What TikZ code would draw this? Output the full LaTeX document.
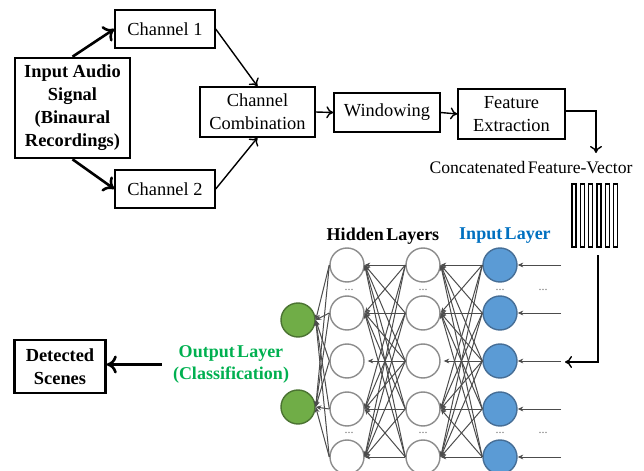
\documentclass[tikz,border=0pt]{standalone}
\usepackage{fontspec}
\setmainfont{Liberation Serif}
\usetikzlibrary{arrows.meta}

\definecolor{inblue}{RGB}{91,155,213}
\definecolor{inborder}{RGB}{70,110,150}
\definecolor{outgreen}{RGB}{112,173,71}
\definecolor{outborder}{RGB}{75,115,50}
\definecolor{labblue}{RGB}{0,112,192}
\definecolor{labgreen}{RGB}{0,176,80}

\tikzset{
  box/.style={draw, line width=0.7pt, align=center, inner sep=1pt,
    font=\fontsize{9.2}{11.5}\selectfont},
  boldbox/.style={box, line width=1.3pt, font=\fontsize{9.2}{11.5}\selectfont\bfseries},
  flow/.style={-{To[length=3.5pt,width=6pt]}, line width=0.7pt},
  bigflow/.style={-{To[length=5pt,width=9pt]}, line width=1.3pt},
  neuron/.style={circle, draw=black!45, line width=0.7pt, minimum size=17pt,
    inner sep=0pt, fill=white},
  inneuron/.style={neuron, fill=inblue, draw=inborder},
  outneuron/.style={neuron, fill=outgreen, draw=outborder},
  edge/.style={-{Stealth[length=2.8pt,width=2.4pt]}, draw=black!70, line width=0.5pt},
  dots/.style={text=black!55, font=\fontsize{6}{6}\selectfont, inner sep=0pt},
  lab/.style={font=\fontsize{9}{11}\selectfont\bfseries, align=center}
}

\begin{document}
\begin{tikzpicture}[x=0.5pt,y=-0.5pt]
\clip (0,0) rectangle (644,471);

% processing chain
\node[boldbox, minimum width=57.5pt, minimum height=50pt] (audio) at (72.5,108)
  {Input Audio\\Signal\\(Binaural\\Recordings)};
\node[box, minimum width=50pt, minimum height=19pt] (ch1) at (165,29) {Channel 1};
\node[box, minimum width=50pt, minimum height=19pt] (ch2) at (165,189) {Channel 2};
\node[box, minimum width=57.5pt, minimum height=25pt] (comb) at (257.5,112)
  {Channel\\Combination};
\node[box, minimum width=53pt, minimum height=19.5pt] (win) at (387,112.5) {Windowing};
\node[box, minimum width=53.5pt, minimum height=25pt] (feat) at (511.5,114)
  {Feature\\Extraction};

\draw[bigflow] (audio.north) -- (ch1.west);
\draw[bigflow] (audio.south) -- (ch2.west);
\draw[flow] (ch1.east) -- (comb.north);
\draw[flow] (ch2.east) -- (comb.south);
\draw[flow] (comb.east) -- (win.west);
\draw[flow] (win.east) -- (feat.west);

\coordinate (vtop) at (596,153);
\draw[flow] ([yshift=1.5pt]feat.east) -| (vtop);

\node[font=\fontsize{8.8}{10}\selectfont, inner sep=1pt] (vtext) at (531,168)
  {Concatenated\kern-1pt\ Feature-Vector};

% feature vector
\foreach \k in {0,...,5}
  \draw[line width=0.6pt] (572+8.3*\k,184) rectangle ++(4,63);

\coordinate (vbot) at (598,255);
\coordinate (vend) at (565,362);
\draw[flow] (vbot) |- (vend);

% layers
\foreach \y [count=\i] in {265,313,361,409,457} {
  \node[inneuron] (inp-\i) at (500,\y) {};
  \node[neuron] (hidB-\i) at (423,\y) {};
  \node[neuron] (hidA-\i) at (347,\y) {};
  \coordinate (src-\i) at (561,\y);
}
\node[outneuron] (out-1) at (298,320) {};
\node[outneuron] (out-2) at (298,407) {};

% middle row only gets its straight neighbour
\draw[edge, shorten >=1.5pt] (inp-3.west) -- (hidB-3.east);
\draw[edge, shorten >=1.5pt] (hidB-3.west) -- (hidA-3.east);
\foreach \i in {1,...,5} {
  \draw[edge] (src-\i) -- (inp-\i.east);
  \draw[edge] (hidA-\i.west) -- (out-1.east);
  \draw[edge] (hidA-\i.west) -- (out-2.east);
  \foreach \j in {1,2,4,5} {
    \draw[edge] (inp-\i.west) -- (hidB-\j.east);
    \draw[edge] (hidB-\i.west) -- (hidA-\j.east);
  }
}

% dots between rows
\foreach \x [count=\c] in {349,423,500,543} {
  \node[dots] (dtop-\c) at (\x,290) {...};
  \node[dots] (dbot-\c) at (\x,433) {...};
}

\node[lab] (hidlab) at (383,236) {Hidden\kern-1pt\ Layers};
\node[lab, text=labblue] (inlab) at (505,236) {Input\kern-1pt\ Layer};
\node[lab, text=labgreen] (outlab) at (231,364.5)
  {Output\kern-1pt\ Layer\\(Classification)};

\node[boldbox, minimum width=45.5pt, minimum height=26.5pt] (det) at (60,366.5)
  {Detected\\Scenes};
\draw[bigflow, shorten <=2pt] (outlab.west) -- (outlab.west -| det.east);

\end{tikzpicture}
\end{document}
